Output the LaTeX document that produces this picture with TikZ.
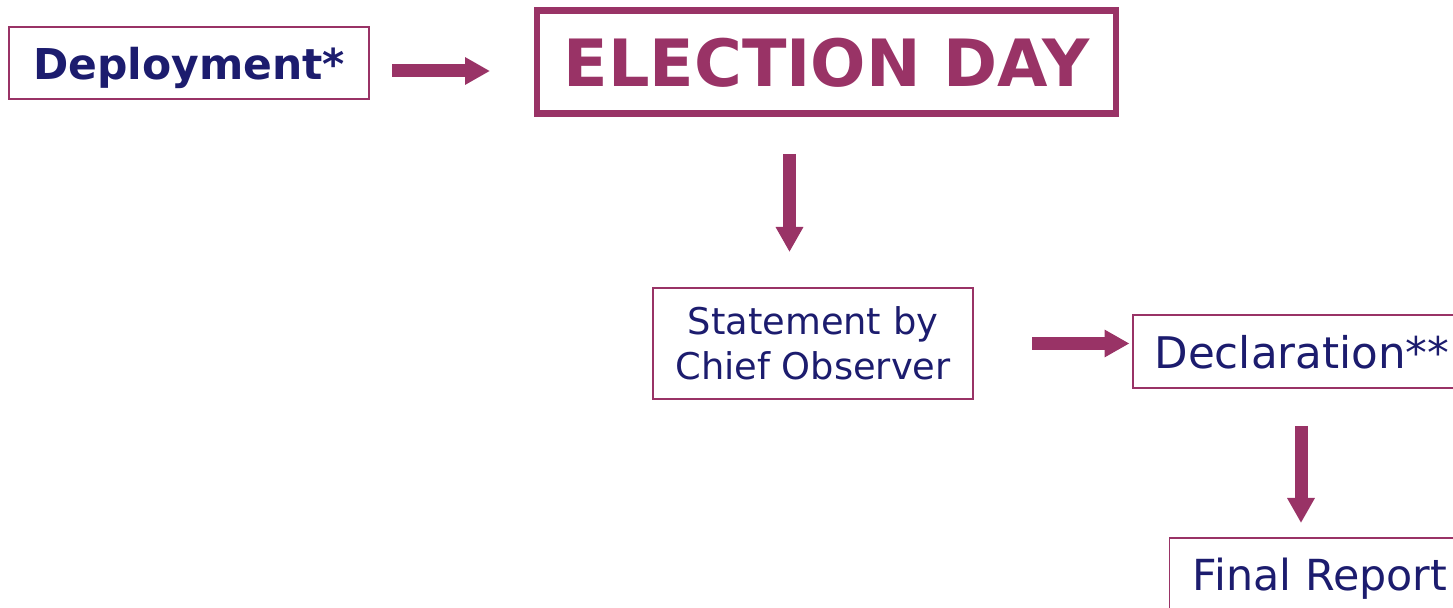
\documentclass[tikz,border=0pt]{standalone}
\usepackage{fontspec}
\setmainfont{DejaVu Sans}
\usepackage{tikz}
\usetikzlibrary{arrows.meta}
\definecolor{myplum}{RGB}{153,51,102}
\definecolor{mynavy}{RGB}{28,28,110}
\tikzset{
  stagebox/.style={draw=myplum, line width=0.75pt, outer sep=0pt, inner sep=0pt,
    text depth=0pt, align=center, text=mynavy},
  bigarrow/.style={draw=myplum, line width=6.5pt,
    -{Triangle[length=12.5pt,width=13pt]}}
}

\begin{document}
\begin{tikzpicture}[x=0.5pt,y=-0.5pt]
\useasboundingbox (0,0) rectangle (1453,608);
\clip (0,0) rectangle (1453,608);
\node[stagebox, minimum width=180pt, minimum height=36pt,
  font=\fontsize{21.25}{25}\selectfont\bfseries] (dep) at (189,63) {Deployment*};
\node[stagebox, line width=3.25pt, minimum width=289.5pt, minimum height=51.5pt,
  text=myplum, font=\fontsize{32.6}{38}\selectfont\bfseries] (day) at (826.5,62) {ELECTION DAY};
\node[stagebox, minimum width=160pt, minimum height=55.5pt,
  font=\fontsize{18.4}{22.5}\selectfont] (stm) at (813,343.5) {Statement by\\Chief Observer};
\node[stagebox, minimum width=169pt, minimum height=36.5pt,
  font=\fontsize{21.8}{26}\selectfont] (dec) at (1302,351.5) {Declaration**};
\node[stagebox, minimum width=150.5pt, minimum height=36.5pt,
  font=\fontsize{21.4}{25}\selectfont] (fin) at (1320,574.5) {Final Report};
% arrows between the stages
\draw[bigarrow] ([xshift=11.5pt,yshift=-4pt]dep.east) -- ([xshift=-23.5pt,yshift=-4.5pt]day.west);
\draw[bigarrow] ([xshift=-18.5pt,yshift=-20.25pt]day.south) -- ([xshift=-11.75pt,yshift=18pt]stm.north);
\draw[bigarrow] ([xshift=29.5pt]stm.east) -- ([xshift=-1.75pt,yshift=4pt]dec.west);
\draw[bigarrow] ([xshift=-0.5pt,yshift=-19pt]dec.south) -- ([xshift=-9.5pt,yshift=7.5pt]fin.north);
\end{tikzpicture}
\end{document}
